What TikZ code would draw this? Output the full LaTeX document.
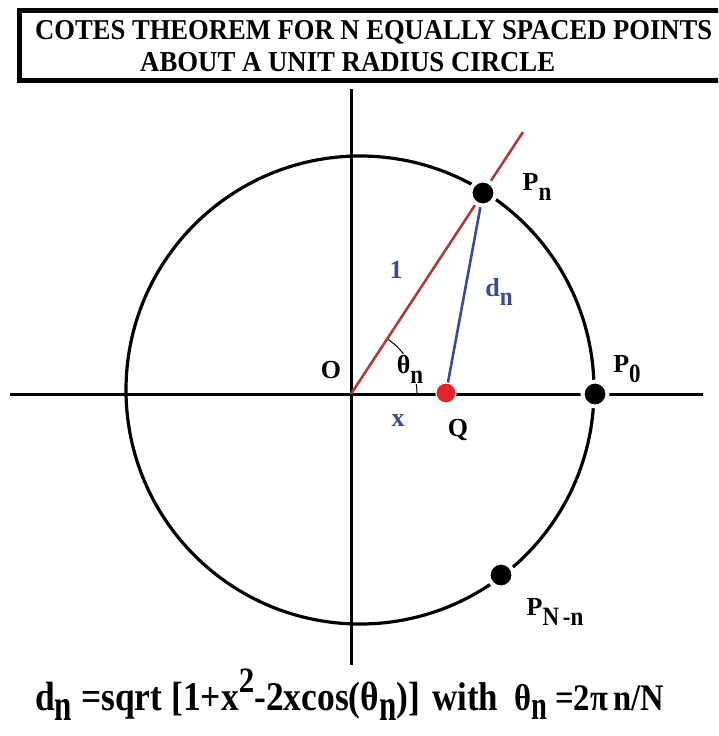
\documentclass[tikz,border=0pt]{standalone}
\usepackage{fontspec}
\setmainfont{Liberation Serif}
\usetikzlibrary{calc}
\newcommand{\mysub}[2][0.38em]{\raisebox{-#1}{\fontsize{23}{23}\selectfont\scalebox{1}[1.15]{#2}}}
\newcommand{\fsub}[1]{\raisebox{-0.26em}{\fontsize{28}{28}\selectfont\scalebox{1}[1.25]{#1}}}
\newcommand{\fsup}[1]{\raisebox{0.42em}{\fontsize{28}{28}\selectfont #1}}
\definecolor{linered}{HTML}{B03A3E}
\definecolor{dotred}{HTML}{E3222B}
\definecolor{lblue}{HTML}{3C4A9C}
\begin{document}
\begin{tikzpicture}[x=1pt,y=-1pt,
  lbl/.style={font=\fontsize{26}{28}\selectfont\bfseries, inner sep=0pt},
  bluelbl/.style={lbl, text=lblue},
  axis/.style={line width=3pt, black},
  pt/.style={circle, fill=black, draw=white, line width=4pt, minimum size=25pt, inner sep=0pt},
  qpt/.style={circle, fill=dotred, draw=white, line width=1pt, minimum size=20pt, inner sep=0pt},
  titlefont/.style={font=\fontsize{29}{32}\selectfont\bfseries, inner sep=0pt, anchor=base west},
  formfont/.style={font=\fontsize{32}{36}\selectfont\bfseries, inner sep=0pt, anchor=base west}]
\useasboundingbox (0,0) rectangle (718,736);
\fill[white] (0,0) rectangle (718,736);
% title box
\begin{scope}
\clip (0,0) rectangle (718,736);
\draw[line width=5pt] (19.5,10.5) rectangle (740,80);
\end{scope}
\node[titlefont] (t1) at (35,40) {\resizebox{677pt}{!}{\scalebox{1}[1.08]{COTES THEOREM FOR N EQUALLY SPACED POINTS}}};
\node[titlefont] (t2) at (140,71) {\resizebox{415pt}{!}{\scalebox{1}[1.08]{ABOUT A UNIT RADIUS CIRCLE}}};
% coordinates
\coordinate (O) at (351,394);
\coordinate (C) at (360,390);
\coordinate (xl) at (10,394);
\coordinate (xr) at (703,394);
\coordinate (yt) at (351,89);
\coordinate (yb) at (351,665);
\coordinate (R) at (523,132);
% axes and circle
\draw[axis] (xl) -- (xr);
\draw[axis] (yt) -- (yb);
\draw[line width=3.2pt] (C) circle (234);
% angle arc
\draw[line width=1pt] ($(O)+(66,0)$) arc[start angle=0, end angle=-56.7, radius=66];
% lines
\draw[line width=2.6pt, linered] (O) -- (R);
\node[qpt] (Q) at (446,393) {};
\node[pt] (Pn) at (483,193) {};
\draw[line width=2.6pt, lblue] (Q) -- (Pn);
\node[pt] (P0) at (595,394) {};
\node[pt] (PNn) at (501,575) {};
\node[qpt] at (Q) {};
\node[pt] at (Pn) {};
% labels
\node[lbl, fill=white, inner sep=1pt] (th) at (410,369) {θ\mysub{n}};
\node[lbl] (Ol) at (331,370) {O};
\node[bluelbl] (one) at (396,270) {1};
\node[bluelbl] (dn) at (499,292) {d\mysub{n}};
\node[bluelbl] (xlab) at (398,421) {x};
\node[lbl] (Ql) at (458,430) {Q};
\node[lbl] (P0l) at (627,369) {P\mysub{0}};
\node[lbl] (Pnl) at (537,187) {P\mysub{n}};
\node[lbl] (PNnl) at (555,612) {P\mysub{N\,-n}};
% formula
\node[formfont] (f1) at (35,710)
  {\resizebox{385pt}{!}{\scalebox{1}[1.15]{d\fsub{n} =sqrt [1+x\fsup{2}-2xcos(θ\fsub{n})]}}};
\node[formfont] (f2) at (432,710) {\resizebox{66pt}{!}{\scalebox{1}[1.15]{with}}};
\node[formfont] (f3) at (514,710) {\resizebox{150pt}{!}{\scalebox{1}[1.15]{θ\fsub{n} =2π\,n/N}}};
\end{tikzpicture}
\end{document}
